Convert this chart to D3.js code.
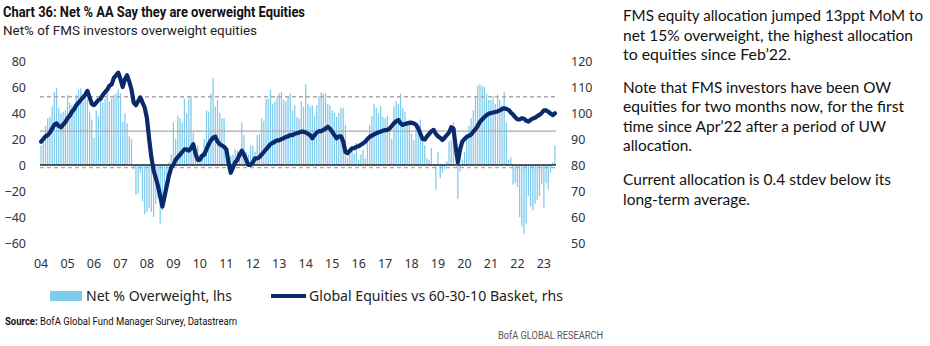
<!DOCTYPE html>
<html>
<head>
<meta charset="utf-8">
<script src="https://cdn.jsdelivr.net/npm/d3@7"></script>
<style>
  html, body { margin: 0; padding: 0; background: #fff; }
  svg { display: block; }
</style>
</head>
<body>
<svg id="chart" width="930" height="346"></svg>
<script>
// Monthly survey readings, Jul 2004 .. Dec 2023
const startMonth = "2004-07";
const endMonth = "2023-12";

// Net % of FMS investors overweight equities (lhs)
const netOverweight = [
  15, 19, 30, 36, 37, 45, 56, 59, 44, 40, 41, 42,
  54, 48, 46, 47, 54, 58, 59, 49, 54, 51, 41, 35,
  21, 42, 38, 52, 48, 51, 59, 49, 51, 54, 55, 58,
  55, 33, 40, 32, 22, 20, -3, -23, -22, -6, -28, -38,
  -36, -33, -36, -40, -30, -25, -45, -35, -25, -10, 2, 8,
  33, 20, 38, 36, 33, 51, 40, 51, 53, 25, 8, 15,
  8, 10, 20, 42, 41, 55, 67, 45, 50, 40, 36, 36,
  4, 3, 7, 8, 12, 11, 10, 33, 23, 10, 8, 15,
  15, 10, 23, 24, 36, 34, 51, 51, 58, 47, 49, 53,
  55, 56, 50, 49, 53, 55, 42, 46, 37, 36, 49, 45,
  62, 47, 45, 46, 38, 46, 53, 56, 55, 55, 47, 46,
  42, 40, 37, 40, 44, 44, 31, 6, 8, 12, 9, 17,
  4, 8, 12, 5, 19, 31, 38, 47, 44, 40, 45, 37,
  36, 38, 29, 20, 45, 49, 47, 55, 44, 41, 32, 35,
  24, 19, 30, 26, 35, 20, 15, 5, 4, 13, -1, -19,
  10, -10, -6, -3, 3, 18, 19, 33, 1, -26, -5, 4,
  10, 24, 30, 36, 42, 53, 61, 62, 61, 60, 55, 50,
  50, 53, 47, 54, 50, 46, 56, 33, 4, 6, -15, -14,
  -17, -40, -47, -53, -45, -24, -32, -35, -30, -27, -24, -15,
  -33, -14, -19, -6, 2, 15
];

// Global equities vs 60-30-10 basket (rhs)
const equitiesVsBasket = [
  89, 90, 91, 91.5, 92.5, 94, 95.5, 96, 95, 94.5, 95.5, 96.5,
  98, 99, 100.5, 101.5, 103, 104, 105, 106, 107, 108.5, 106, 103.5,
  103, 104, 105, 105.5, 107, 108, 109, 110.5, 111, 113.5, 114.5, 115.5,
  113, 110, 113, 114.5, 112, 109, 104, 103, 104.5, 106, 104, 102,
  98, 90, 83, 78, 75, 72, 68, 64, 68, 72, 76, 79,
  80, 82, 83, 84, 85, 86, 86, 85.5, 86.5, 88, 84.5, 82,
  82, 83.5, 84, 86, 88, 89.5, 90.5, 90.9, 89, 88, 87.5, 87,
  86, 81, 77, 79, 81, 82, 84, 85.5, 84, 82, 80, 80,
  81, 82.6, 82.5, 83, 84, 85, 86, 87, 88, 88.5, 89, 89.5,
  89.5, 90, 90.3, 90.8, 91, 91.5, 91.5, 92, 92.2, 92.5, 92.8, 92.8,
  92.5, 92, 91.5, 90.3, 91.5, 92.5, 93, 93, 93.5, 94, 94.7, 94,
  92.8, 91.5, 90.3, 91, 91, 89, 85, 84.5, 85.5, 86.4, 86.5, 87,
  87.2, 87.8, 88.3, 89, 90, 90.8, 91.3, 91.8, 92.2, 92.6, 92.8, 93.2,
  93.4, 93.5, 94, 95, 96, 96.8, 97.3, 96, 95.4, 95.8, 96, 96.2,
  96.3, 96, 95.5, 94.1, 92, 90, 89.8, 91, 92, 93, 93.5, 92,
  91, 90.5, 89.6, 90.5, 91.5, 92.5, 94.5, 94, 87, 81, 86, 89,
  90, 90.8, 91.2, 91.7, 92.8, 93.8, 95, 96.6, 97.5, 98.4, 99.2, 99.7,
  100, 100.2, 100.4, 100.6, 101, 101.5, 101.8, 101.5, 101.2, 100.2, 99.4, 98.4,
  97.6, 97.5, 98, 97.8, 97, 96.7, 97.4, 97.9, 98.2, 98.8, 99.3, 100,
  101, 101, 100.5, 99.8, 99.2, 99.9
];

// Long-term average of the net % series and +/- one standard deviation
const longTermAverage = 26;
const plusOneStdev = 52.5;
const minusOneStdev = -2;

const leftTicks = [-60, -40, -20, 0, 20, 40, 60, 80];
const rightTicks = [50, 60, 70, 80, 90, 100, 110, 120];
const yearLabels = ["04","05","06","07","08","09","10","11","12","13",
                    "14","15","16","17","18","19","20","21","22","23"];

const legendLabels = ["Net % Overweight, lhs", "Global Equities vs 60-30-10 Basket, rhs"];

const commentary = [
  ["FMS equity allocation jumped 13ppt MoM to",
   "net 15% overweight, the highest allocation",
   "to equities since Feb\u201922."],
  ["Note that FMS investors have been OW",
   "equities for two months now, for the first",
   "time since Apr\u201922 after a period of UW",
   "allocation."],
  ["Current allocation is 0.4 stdev below its",
   "long-term average."]
];

// ---------------------------------------------------------------------
const BAR = "#80ccef";
const NAVY = "#0b2a6b";
const TEXT = "#333";
const FONT = "'Noto Sans', 'DejaVu Sans', sans-serif";

const svg = d3.select("#chart");
const parse = d3.timeParse("%Y-%m");
const months = d3.timeMonth.range(parse(startMonth), d3.timeMonth.offset(parse(endMonth), 1));

const plot = { left: 40, right: 556, top: 61, bottom: 243 };

const x = d3.scaleBand()
  .domain(months.map(d => +d))
  .range([plot.left, plot.right])
  .padding(0);
const barW = x.bandwidth() * 0.58;

const yL = d3.scaleLinear().domain([-60, 80]).range([plot.bottom, plot.top]);
const yR = d3.scaleLinear().domain([50, 120]).range([plot.bottom, plot.top]);

// Title and subtitle
svg.append("text")
  .attr("x", 3).attr("y", 17)
  .attr("font-family", "Roboto, 'Noto Sans', sans-serif")
  .attr("font-weight", 700).attr("font-size", 14.5)
  .attr("fill", "#111")
  .attr("textLength", 302).attr("lengthAdjust", "spacingAndGlyphs")
  .text("Chart 36: Net % AA Say they are overweight Equities");

svg.append("text")
  .attr("x", 3).attr("y", 35)
  .attr("font-family", "Roboto, 'Noto Sans', sans-serif")
  .attr("font-size", 13.5)
  .attr("fill", "#222")
  .attr("textLength", 254).attr("lengthAdjust", "spacingAndGlyphs")
  .text("Net% of FMS investors overweight equities");

// Bars
svg.append("g")
  .selectAll("rect")
  .data(netOverweight)
  .join("rect")
  .attr("x", (d, i) => x(+months[i]) + (x.bandwidth() - barW) / 2)
  .attr("y", d => Math.min(yL(d), yL(0)))
  .attr("width", barW)
  .attr("height", d => Math.abs(yL(d) - yL(0)))
  .attr("fill", BAR);

// Average and stdev bands
const refs = svg.append("g");
[plusOneStdev, minusOneStdev].forEach(v => {
  refs.append("line")
    .attr("x1", plot.left).attr("x2", plot.right)
    .attr("y1", yL(v)).attr("y2", yL(v))
    .attr("stroke", "#a9a9a9").attr("stroke-width", 1.3)
    .attr("stroke-dasharray", "4,3");
});
refs.append("line")
  .attr("x1", plot.left).attr("x2", plot.right)
  .attr("y1", yL(longTermAverage)).attr("y2", yL(longTermAverage))
  .attr("stroke", "#a9a9a9").attr("stroke-width", 1.2);
refs.append("line")
  .attr("x1", plot.left).attr("x2", plot.right)
  .attr("y1", yL(0)).attr("y2", yL(0))
  .attr("stroke", "#222").attr("stroke-width", 1.4);

// Relative performance line
const line = d3.line()
  .x((d, i) => x(+months[i]) + x.bandwidth() / 2)
  .y(d => yR(d))
  .curve(d3.curveLinear);

svg.append("path")
  .datum(equitiesVsBasket)
  .attr("d", line)
  .attr("fill", "none")
  .attr("stroke", NAVY)
  .attr("stroke-width", 4.2)
  .attr("stroke-linejoin", "round")
  .attr("stroke-linecap", "round");

// Axes
function styleAxis(g) {
  g.select(".domain").remove();
  g.selectAll("text")
    .attr("font-family", FONT)
    .attr("font-size", 12.5)
    .attr("fill", TEXT);
}

svg.append("g")
  .attr("transform", `translate(29,0)`)
  .call(d3.axisLeft(yL).tickValues(leftTicks).tickSize(0).tickPadding(3))
  .call(styleAxis);

svg.append("g")
  .attr("transform", `translate(568,0)`)
  .call(d3.axisRight(yR).tickValues(rightTicks).tickSize(0).tickPadding(3))
  .call(styleAxis);

const julys = months.filter(d => d.getMonth() === 6).map(d => +d);
svg.append("g")
  .attr("transform", `translate(0,256)`)
  .call(d3.axisBottom(x).tickValues(julys).tickSize(0).tickPadding(3)
        .tickFormat((d, i) => yearLabels[i]))
  .call(styleAxis);

// Legend
const legend = svg.append("g").attr("font-family", FONT).attr("font-size", 13.5).attr("fill", "#222");
legend.append("rect").attr("x", 50).attr("y", 291).attr("width", 32).attr("height", 10).attr("fill", BAR);
legend.append("text").attr("x", 86).attr("y", 301)
  .attr("textLength", 146).attr("lengthAdjust", "spacingAndGlyphs")
  .text(legendLabels[0]);
legend.append("line").attr("x1", 271).attr("x2", 306).attr("y1", 296).attr("y2", 296)
  .attr("stroke", NAVY).attr("stroke-width", 4.2);
legend.append("text").attr("x", 309).attr("y", 301)
  .attr("textLength", 254).attr("lengthAdjust", "spacingAndGlyphs")
  .text(legendLabels[1]);

// Source line and footer
const src = svg.append("text").attr("x", 5).attr("y", 325)
  .attr("font-family", "Roboto, 'Noto Sans', sans-serif").attr("font-size", 10).attr("fill", "#111")
  .attr("textLength", 232).attr("lengthAdjust", "spacingAndGlyphs");
src.append("tspan").attr("font-weight", 700).text("Source: ");
src.append("tspan").text(" BofA Global Fund Manager Survey, Datastream");

svg.append("text").attr("x", 498).attr("y", 339)
  .attr("font-family", "Roboto, 'Noto Sans', sans-serif").attr("font-size", 10).attr("fill", "#555")
  .attr("textLength", 105).attr("lengthAdjust", "spacingAndGlyphs")
  .text("BofA GLOBAL RESEARCH");

// Commentary
const lineWidths = [[300, 290, 168], [268, 281, 263, 69], [268, 127]];
const paraTop = [21, 92.5, 185];
const comm = svg.append("g")
  .attr("font-family", "Lato, 'Noto Sans', sans-serif")
  .attr("font-size", 15.5)
  .attr("fill", "#111");
commentary.forEach((para, p) => {
  para.forEach((t, j) => {
    comm.append("text")
      .attr("x", 623)
      .attr("y", paraTop[p] + j * 19.6)
      .attr("textLength", lineWidths[p][j])
      .attr("lengthAdjust", "spacingAndGlyphs")
      .text(t);
  });
});
</script>
</body>
</html>
